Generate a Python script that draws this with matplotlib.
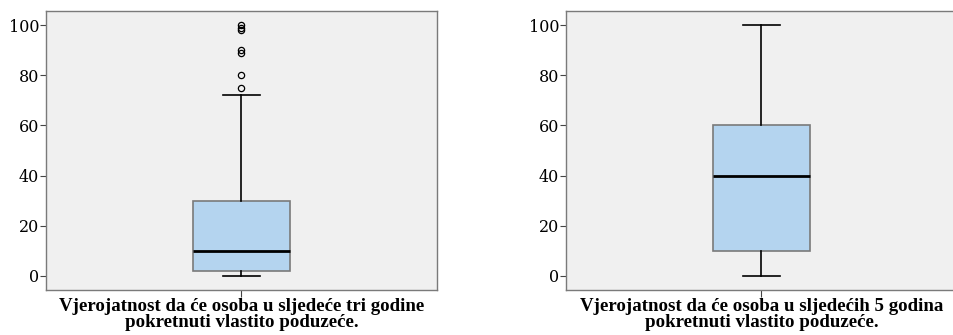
import matplotlib
matplotlib.use("Agg")
import matplotlib.pyplot as plt

# ── Data ───────────────────────────────────────────────────
labels = [
    "Vjerojatnost da će osoba u sljedeće tri godine\npokretnuti vlastito poduzeće.",
    "Vjerojatnost da će osoba u sljedećih 5 godina\npokretnuti vlastito poduzeće.",
]
whislo = [0, 0]
q1 = [2, 10]
med = [10, 40]
q3 = [30, 60]
whishi = [72, 100]
fliers = [[75, 80, 89, 90, 98, 99, 100], []]
yticks = [0, 20, 40, 60, 80, 100]

# ── Style ──────────────────────────────────────────────────
BG = "#F0F0F0"
BOX = "#B4D4EF"
EDGE = "#7A7A7A"
TICK_FONT = ["DejaVu Serif"]
LABEL_FONT = ["Liberation Serif", "DejaVu Serif"]

fig = plt.figure(figsize=(9.54, 3.35), dpi=100)
rects = [
    [46 / 954, 45 / 335, 391 / 954, 279 / 335],
    [566 / 954, 45 / 335, 391 / 954, 279 / 335],
]

for i, r in enumerate(rects):
    ax = fig.add_axes(r)
    ax.set_facecolor(BG)
    stats = [{
        "whislo": whislo[i], "q1": q1[i], "med": med[i],
        "q3": q3[i], "whishi": whishi[i], "fliers": fliers[i],
    }]
    ax.bxp(
        stats, positions=[1], widths=0.248, patch_artist=True,
        boxprops=dict(facecolor=BOX, edgecolor=EDGE, linewidth=1.2),
        medianprops=dict(color="black", linewidth=2),
        whiskerprops=dict(color="black", linewidth=1.2),
        capprops=dict(color="black", linewidth=1.2),
        capwidths=0.097,
        flierprops=dict(marker="o", markersize=4.5, markerfacecolor="none",
                        markeredgecolor="black", markeredgewidth=0.9),
    )
    ax.set_xlim(0.5, 1.5)
    ax.set_ylim(-5.6, 105.6)
    ax.set_yticks(yticks)
    ax.set_xticks([1])
    ax.set_xticklabels([""])
    for s in ax.spines.values():
        s.set_color(EDGE)
        s.set_linewidth(1.0)
    ax.tick_params(axis="y", length=4, width=0.8, color="#444444",
                   labelsize=11.5, pad=1)
    ax.tick_params(axis="x", length=5, width=0.8, color="#444444", pad=0)
    for t in ax.get_yticklabels():
        t.set_family(TICK_FONT)
    ax.set_xlabel(labels[i], family=LABEL_FONT, fontsize=13.6,
                  fontweight="bold", linespacing=0.88, labelpad=1)

fig.savefig("out.png", dpi=100, facecolor="white")
